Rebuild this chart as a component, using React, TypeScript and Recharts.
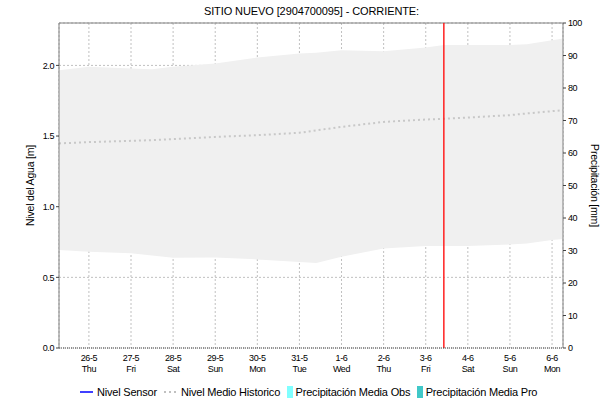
import { ComposedChart, Area, Bar, Line, XAxis, YAxis, CartesianGrid, ReferenceLine, Legend } from "recharts"

// x values are days relative to 26-5 (tick at 0)
const days = [-0.71, 0, 1, 1.5, 2, 3, 4, 5, 5.4, 6, 7, 8, 8.43, 9, 10, 10.4, 11, 11.26]
const bandHigh = [1.966, 1.99, 1.978, 1.972, 1.99, 2.013, 2.055, 2.084, 2.09, 2.107, 2.1, 2.126, 2.145, 2.145, 2.145, 2.15, 2.178, 2.19]
const bandLow = [0.693, 0.681, 0.67, 0.655, 0.639, 0.641, 0.627, 0.608, 0.602, 0.646, 0.705, 0.721, 0.721, 0.722, 0.733, 0.74, 0.764, 0.771]
const medianLevel = [1.448, 1.457, 1.466, 1.471, 1.478, 1.494, 1.506, 1.523, 1.54, 1.565, 1.6, 1.617, 1.622, 1.631, 1.648, 1.66, 1.676, 1.683]

const dateLabels = ["26-5", "27-5", "28-5", "29-5", "30-5", "31-5", "1-6", "2-6", "3-6", "4-6", "5-6", "6-6"]
const weekdays = ["Thu", "Fri", "Sat", "Sun", "Mon", "Tue", "Wed", "Thu", "Fri", "Sat", "Sun", "Mon"]
const levelTicks = [0, 0.5, 1, 1.5, 2]
const rainTicks = [0, 10, 20, 30, 40, 50, 60, 70, 80, 90, 100]
const nowDay = 8.43

const FONT = "'Liberation Sans', Arial, sans-serif"
const tickStyle = { fontSize: 9, fontFamily: FONT, fill: "#000", letterSpacing: -0.4 }
const labelStyle = { textAnchor: "middle", fontSize: 10.5, fontFamily: FONT, fill: "#000", letterSpacing: -0.2 }

// no sensor level or precipitation values are present in the period shown
const data = days.map((d, i) => ({
  day: d,
  band: [bandLow[i], bandHigh[i]],
  median: medianLevel[i],
}))

const DayTick = ({ x, y, payload }: any) => {
  const i = payload.value
  return (
    <text x={x} y={y} textAnchor="middle" style={tickStyle}>
      <tspan x={x} dy={5}>{dateLabels[i]}</tspan>
      <tspan x={x} dy={11}>{weekdays[i]}</tspan>
    </text>
  )
}

const legendItems = [
  { name: "Nivel Sensor", kind: "line", color: "#0000ff" },
  { name: "Nivel Medio Historico", kind: "dots", color: "#c0c0c0" },
  { name: "Precipitación Media Obs", kind: "box", color: "#80ffff" },
  { name: "Precipitación Media Pro", kind: "box", color: "#40c8c8" },
]

const renderLegend = () => (
  <div style={{ display: "flex", alignItems: "center", fontFamily: FONT, fontSize: 11, letterSpacing: -0.2, color: "#000", paddingLeft: 80, paddingTop: 8 }}>
    {legendItems.map((it) => (
      <div key={it.name} style={{ display: "flex", alignItems: "center", marginRight: 7 }}>
        {it.kind === "box" ? (
          <div style={{ width: 5.5, height: 12, background: it.color, marginRight: 3 }} />
        ) : (
          <svg width={13} height={4} style={{ marginRight: 4 }}>
            <line x1={0} y1={2} x2={13} y2={2} stroke={it.color} strokeWidth={it.kind === "dots" ? 2 : 1.5} strokeDasharray={it.kind === "dots" ? "2 3" : undefined} />
          </svg>
        )}
        <span>{it.name}</span>
      </div>
    ))}
  </div>
)

export default function App() {
  return (
    <div style={{ position: "absolute", left: 0, top: 0, width: 609, height: 401, background: "#fff" }}>
      <div style={{ position: "absolute", top: 5, left: 7, width: 609, textAlign: "center", fontFamily: FONT, fontSize: 11, letterSpacing: -0.1, color: "#000" }}>
        SITIO NUEVO [2904700095] - CORRIENTE:
      </div>
      <ComposedChart width={609} height={401} data={data} margin={{ top: 23, right: 0, bottom: 0, left: 0 }}>
        <CartesianGrid yAxisId="left" stroke="#c0c0c0" strokeDasharray="2 2" />
        <XAxis
          dataKey="day"
          type="number"
          domain={[-0.71, 11.26]}
          ticks={dateLabels.map((_, i) => i)}
          tick={<DayTick />}
          tickLine={false}
          axisLine={{ stroke: "#404040", strokeDasharray: "1 1" }}
          height={30}
          interval={0}
          allowDataOverflow
        />
        <YAxis
          yAxisId="left"
          domain={[0, 2.3]}
          ticks={levelTicks}
          tickFormatter={(v: number) => v.toFixed(1)}
          width={59}
          tick={tickStyle}
          tickSize={3}
          tickLine={{ stroke: "#404040" }}
          axisLine={{ stroke: "#808080" }}
          allowDataOverflow
          label={{ value: "Nivel del Agua [m]", angle: -90, position: "insideLeft", offset: 30, style: labelStyle }}
        />
        <YAxis
          yAxisId="right"
          orientation="right"
          domain={[0, 100]}
          ticks={rainTicks}
          width={46}
          tick={tickStyle}
          tickSize={3}
          tickLine={{ stroke: "#404040" }}
          axisLine={{ stroke: "#808080" }}
          allowDataOverflow
          label={{ value: "Precipitación [mm]", angle: 90, position: "insideRight", offset: 14, style: labelStyle }}
        />
        <Legend verticalAlign="bottom" height={23} content={renderLegend} />
        <Area yAxisId="left" dataKey="band" type="linear" fill="#f0f0f0" fillOpacity={1} stroke="none" isAnimationActive={false} />
        <Bar yAxisId="right" dataKey="precipObs" fill="#80ffff" isAnimationActive={false} />
        <Bar yAxisId="right" dataKey="precipPro" fill="#40c8c8" isAnimationActive={false} />
        <Line yAxisId="left" dataKey="median" type="linear" stroke="#c8c8c8" strokeWidth={2} strokeDasharray="2 3" dot={false} isAnimationActive={false} />
        <Line yAxisId="left" dataKey="sensor" type="linear" stroke="#0000ff" dot={false} isAnimationActive={false} />
        <ReferenceLine yAxisId="left" y={2.3} stroke="#808080" />
        <ReferenceLine yAxisId="left" x={nowDay} stroke="#ff2020" strokeWidth={1.5} />
      </ComposedChart>
    </div>
  )
}
